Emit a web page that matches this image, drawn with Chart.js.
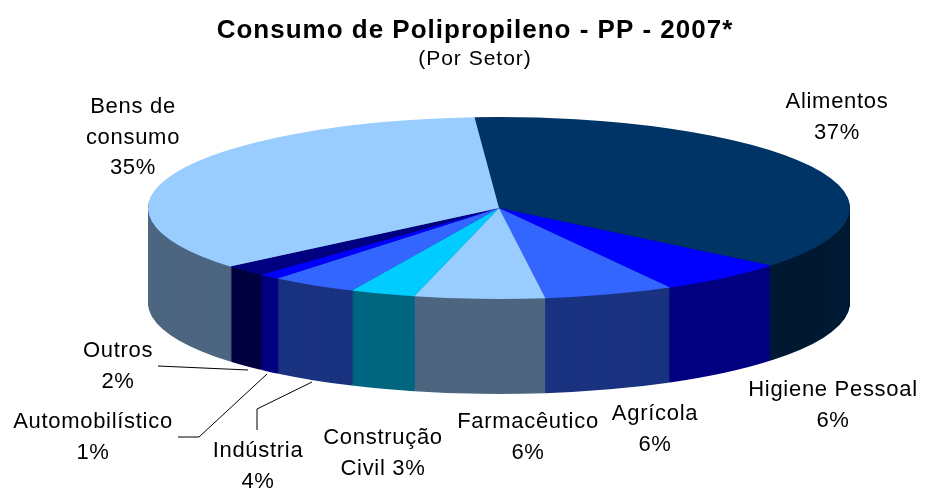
<!DOCTYPE html>
<html>
<head>
<meta charset="utf-8">
<script src="https://cdn.jsdelivr.net/npm/chart.js@4"></script>
<style>
  html, body { margin: 0; padding: 0; background: #fff; }
  #wrap { width: 926px; height: 489px; }
</style>
</head>
<body>
<div id="wrap"><canvas id="ppChart"></canvas></div>
<script>
// data
const categories = ['Alimentos', 'Higiene Pessoal', 'Agrícola', 'Farmacêutico', 'Construção Civil',
                    'Indústria', 'Automobilístico', 'Outros', 'Bens de consumo'];
const values = [37, 6, 6, 6, 3, 4, 1, 2, 35];
const topColors  = ['#003366', '#0000FF', '#3366FF', '#99CCFF', '#00CCFF', '#3366FF', '#0000FF', '#000080', '#99CCFF'];
const sideColors = ['#001A33', '#000080', '#1A3380', '#4D6680', '#006680', '#1A3380', '#000080', '#000040', '#4D6680'];

// 3d look: ellipse centre / radii / thickness on screen
const view = { cx: 499, cy: 208, rx: 351, ry: 91, depth: 95 };

// label placement (centre x, baseline of first line, words per line)
const labelLayout = [
    { x: 837, y: 108, wrap: [1, 1] },
    { x: 833, y: 396, wrap: [2, 1] },
    { x: 655, y: 420, wrap: [1, 1] },
    { x: 528, y: 428, wrap: [1, 1] },
    { x: 383, y: 444, wrap: [1, 2] },
    { x: 258, y: 457, wrap: [1, 1] },
    { x: 93,  y: 428, wrap: [1, 1] },
    { x: 118, y: 357, wrap: [1, 1] },
    { x: 133, y: 113, wrap: [2, 1, 1] }
];
const leaders = [
    [[158, 366], [248, 370]],
    [[178, 437], [199, 437], [267, 374]],
    [[257, 430], [257, 409], [312, 382]]
];

function project(chart, ctx) {
    const arc = chart.getDatasetMeta(0).data[0];
    const r = arc.outerRadius;
    ctx.translate(view.cx, view.cy);
    ctx.scale(view.rx / r, view.ry / r);
    ctx.translate(-arc.x, -arc.y);
}

const pie3d = {
    id: 'pie3d',
    beforeDraw(chart) {
        // excel-like wide text for title / subtitle
        chart.ctx.letterSpacing = '1px';
    },
    beforeDatasetsDraw(chart) {
        const ctx = chart.ctx;
        const arcs = chart.getDatasetMeta(0).data;
        // side walls: stack of darker copies pushed down
        for (let d = view.depth; d >= 1; d--) {
            ctx.save();
            ctx.translate(0, d);
            project(chart, ctx);
            arcs.forEach((a, i) => {
                const keep = a.options.backgroundColor;
                a.options.backgroundColor = sideColors[i];
                a.draw(ctx);
                a.options.backgroundColor = keep;
            });
            ctx.restore();
        }
        ctx.save();
        project(chart, ctx);
    },
    afterDatasetsDraw(chart) {
        chart.ctx.restore();
    },
    afterDraw(chart) {
        const ctx = chart.ctx;
        ctx.save();
        ctx.strokeStyle = '#000';
        ctx.lineWidth = 1;
        leaders.forEach(pts => {
            ctx.beginPath();
            pts.forEach((p, k) => k ? ctx.lineTo(p[0], p[1]) : ctx.moveTo(p[0], p[1]));
            ctx.stroke();
        });
        ctx.fillStyle = '#000';
        ctx.font = '22px "Liberation Sans", Arial, sans-serif';
        ctx.letterSpacing = '0.7px';
        ctx.textAlign = 'center';
        ctx.textBaseline = 'alphabetic';
        categories.forEach((name, i) => {
            const words = (name + ' ' + values[i] + '%').split(' ');
            const lay = labelLayout[i];
            let w = 0;
            lay.wrap.forEach((n, line) => {
                ctx.fillText(words.slice(w, w + n).join(' '), lay.x, lay.y + line * 30.5);
                w += n;
            });
        });
        ctx.restore();
    }
};

new Chart(document.getElementById('ppChart'), {
    type: 'pie',
    data: {
        labels: categories,
        datasets: [{
            data: values,
            backgroundColor: topColors,
            borderWidth: 0,
            clip: false
        }]
    },
    options: {
        responsive: true,
        maintainAspectRatio: false,
        animation: false,
        rotation: -4,
        layout: { padding: { left: 24 } },
        plugins: {
            legend: { display: false },
            tooltip: { enabled: false },
            title: {
                display: true,
                text: 'Consumo de Polipropileno - PP - 2007*',
                color: '#000',
                font: { family: '"Liberation Sans", Arial, sans-serif', size: 26, weight: 'bold', lineHeight: 1 },
                padding: { top: 18, bottom: 0 }
            },
            subtitle: {
                display: true,
                text: '(Por Setor)',
                color: '#000',
                font: { family: '"Liberation Sans", Arial, sans-serif', size: 21, lineHeight: 1 },
                padding: { top: 5, bottom: 0 }
            }
        }
    },
    plugins: [pie3d]
});
</script>
</body>
</html>
